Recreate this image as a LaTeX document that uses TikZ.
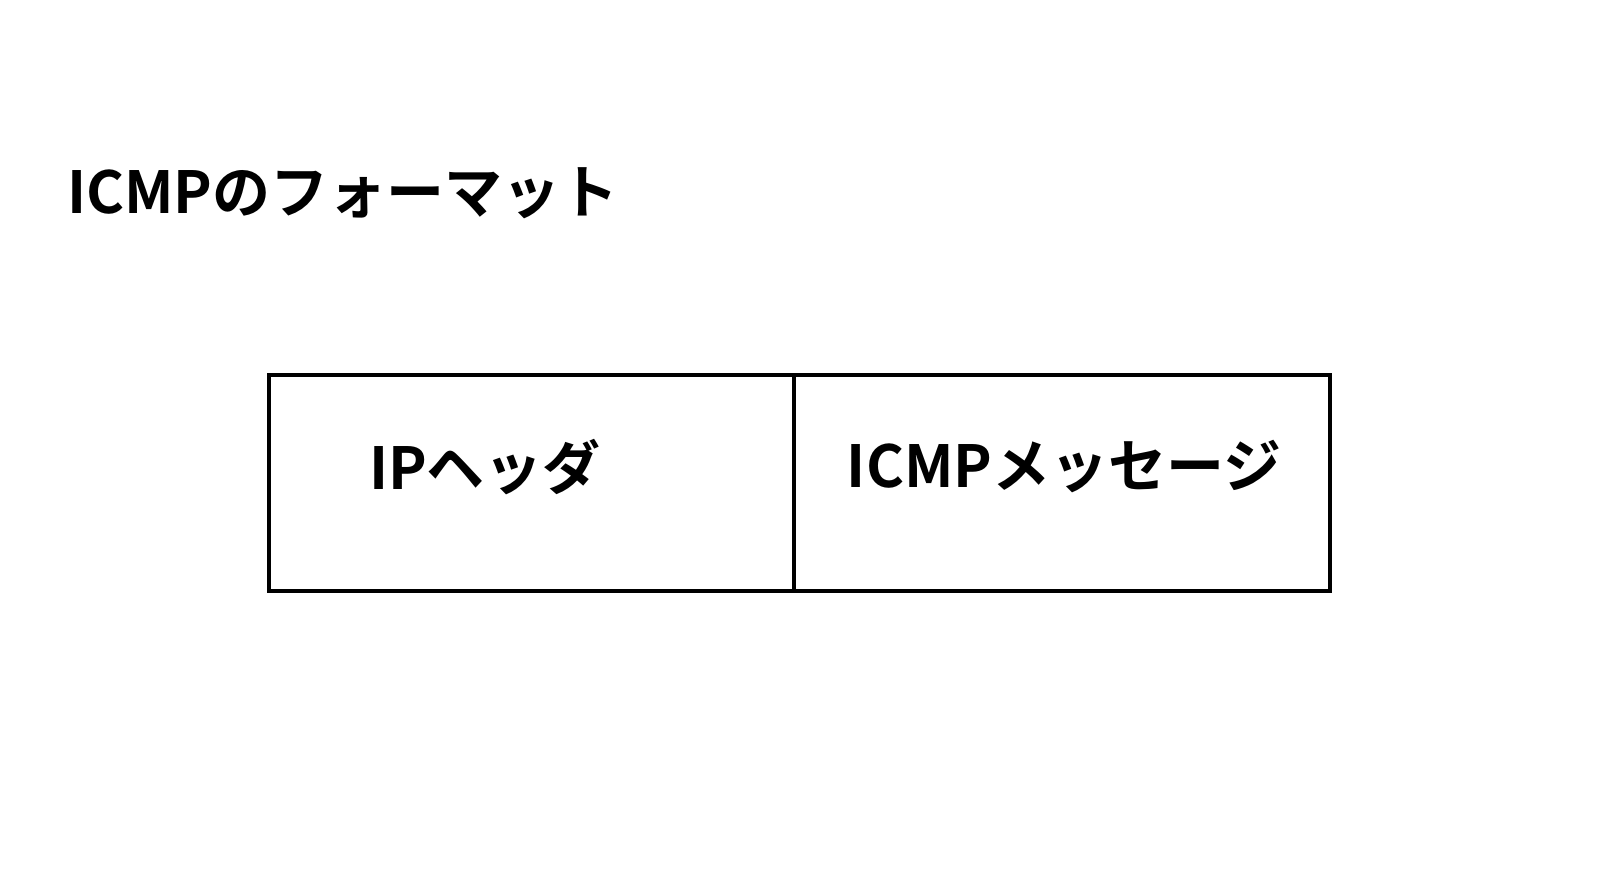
\documentclass[tikz,border=0pt]{standalone}
\usepackage{fontspec}
\setmainfont{Noto Sans CJK JP}[BoldFont={* Bold}]
\begin{document}
\begin{tikzpicture}[x=1pt,y=-1pt,
  lbl/.style={font=\fontsize{58}{66}\selectfont\bfseries, inner sep=0pt},
  cell/.style={draw, line width=3.5pt, minimum height=216pt, inner sep=0pt}]
\useasboundingbox (0,0) rectangle (1619,896);
\node[lbl, anchor=west] (title) at (67,193) {ICMPのフォーマット};
\node[cell, minimum width=525pt] (ip) at (531.5,483) {};
\node[cell, minimum width=536pt] (msg) at (1062,483) {};
\node[lbl] (iptxt) at (485,467) {IPヘッダ};
\node[lbl] (msgtxt) at (1064,467) {ICMPメッセージ};
\end{tikzpicture}
\end{document}
